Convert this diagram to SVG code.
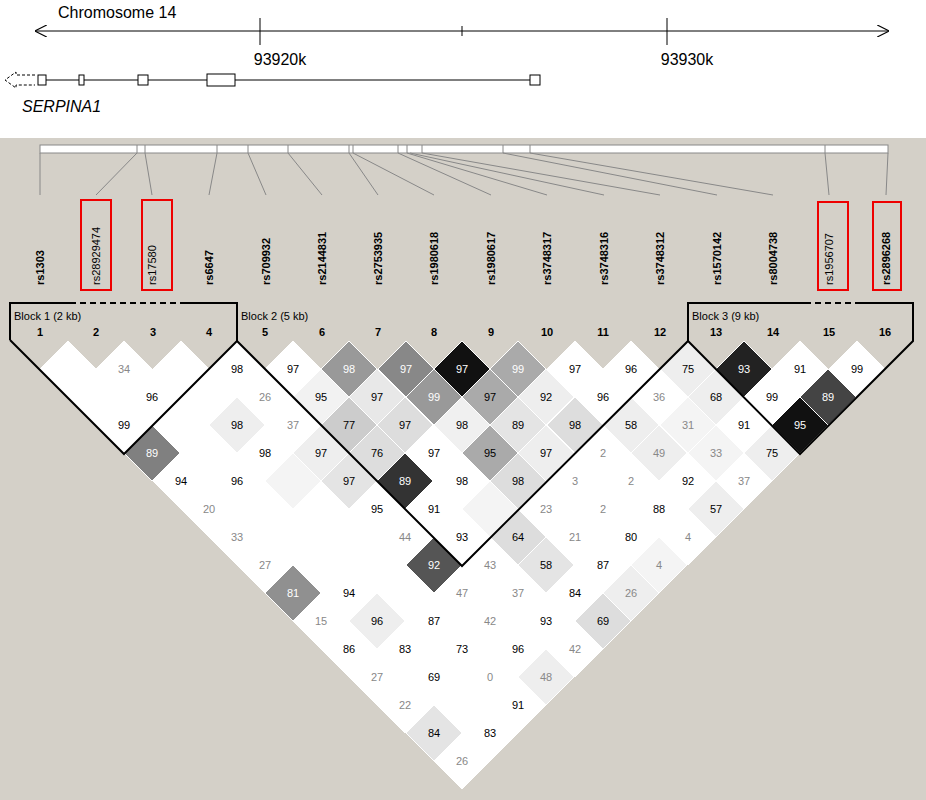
<svg xmlns="http://www.w3.org/2000/svg" width="926" height="800" viewBox="0 0 926 800">
<style>
text{font-family:"Liberation Sans",Arial,sans-serif}
.v{font-size:11px;text-anchor:middle;fill:#000}
.g{fill:#888}
.w{fill:#fff}
.n{font-size:11px;font-weight:bold;text-anchor:middle}
.s{font-size:11px;font-weight:bold}
.sn{font-size:11px}
.ln{stroke:#000;stroke-width:2;fill:none}
.th{stroke:#888;stroke-width:1;fill:none}
</style>
<defs>
<path id="d" d="M0,-28 L28,0 L0,28 L-28,0Z" stroke="#fff" stroke-width="1"/>
<marker id="ah" viewBox="0 0 10 10" refX="9" refY="5" markerWidth="12" markerHeight="12" orient="auto-start-reverse" markerUnits="userSpaceOnUse"><path d="M0,0 L10,5 L0,10" fill="none" stroke="#000"/></marker>
</defs>
<rect width="926" height="800" fill="#fff"/>
<g id="chrom">
<line x1="36" y1="31" x2="888" y2="31" stroke="#000" marker-start="url(#ah)" marker-end="url(#ah)"/>
<line x1="260" y1="18" x2="260" y2="45" stroke="#000"/>
<line x1="462" y1="26" x2="462" y2="36" stroke="#000"/>
<line x1="667" y1="18" x2="667" y2="45" stroke="#000"/>
<text x="58" y="18" font-size="16">Chromosome 14</text>
<text x="280" y="65" font-size="16" text-anchor="middle">93920k</text>
<text x="687" y="65" font-size="16" text-anchor="middle">93930k</text>
</g>
<g id="gene">
<path d="M35,75 L16,75 L16,72 L5,80 L16,88 L16,85 L35,85" fill="none" stroke="#000" stroke-dasharray="3,2"/>
<line x1="46" y1="80" x2="530" y2="80" stroke="#000"/>
<g fill="#fff" stroke="#000"><rect x="38" y="75" width="8" height="10"/><rect x="79" y="75" width="5" height="10"/><rect x="138" y="75" width="10" height="10"/><rect x="207" y="74" width="28" height="12"/><rect x="530" y="75" width="10" height="10"/></g>
<text x="22" y="112" font-size="16" font-style="italic">SERPINA1</text>
</g>
<rect x="0" y="138" width="926" height="662" fill="#d4d0c8"/>
<g id="bar">
<rect x="40" y="145" width="848" height="8" fill="#fff" stroke="#888"/>
<g class="th">
<path d="M137,145v8M145,145v8M217,145v8M248,145v8M288,145v8M349,145v8M353,145v8M398,145v8M407,145v8M422,145v8M503,145v8M530,145v8M825,145v8"/>
<path d="M40,153L40,195M137,153L96,195M145,153L152,195M217,153L209,195M248,153L266,195M288,153L322,195M349,153L378,195M353,153L434,195M398,153L491,195M407,153L547,195M410,153L604,195M422,153L660,195M503,153L717,195M530,153L773,195M825,153L829,195M888,153L886,195"/>
</g>
</g>
<g id="labels">
<text class="s" transform="translate(44,285) rotate(-90)">rs1303</text>
<text class="sn" transform="translate(100,285) rotate(-90)">rs28929474</text>
<text class="sn" transform="translate(156,285) rotate(-90)">rs17580</text>
<text class="s" transform="translate(213,285) rotate(-90)">rs6647</text>
<text class="s" transform="translate(270,285) rotate(-90)">rs709932</text>
<text class="s" transform="translate(326,285) rotate(-90)">rs2144831</text>
<text class="s" transform="translate(382,285) rotate(-90)">rs2753935</text>
<text class="s" transform="translate(438,285) rotate(-90)">rs1980618</text>
<text class="s" transform="translate(495,285) rotate(-90)">rs1980617</text>
<text class="s" transform="translate(551,285) rotate(-90)">rs3748317</text>
<text class="s" transform="translate(608,285) rotate(-90)">rs3748316</text>
<text class="s" transform="translate(664,285) rotate(-90)">rs3748312</text>
<text class="s" transform="translate(721,285) rotate(-90)">rs1570142</text>
<text class="s" transform="translate(777,285) rotate(-90)">rs8004738</text>
<text class="sn" transform="translate(833,285) rotate(-90)">rs1956707</text>
<text class="s" transform="translate(890,285) rotate(-90)">rs2896268</text>
<g fill="none" stroke="#e00" stroke-width="2">
<rect x="81" y="200" width="30" height="90"/><rect x="142" y="200" width="30" height="90"/><rect x="818" y="202" width="30" height="88"/><rect x="873" y="202" width="28" height="88"/>
</g>
</g>
<g id="cells">
<g fill="#fff">
<use href="#d" x="68" y="369"/><use href="#d" x="124" y="369"/><use href="#d" x="181" y="369"/><use href="#d" x="237" y="369"/><use href="#d" x="293" y="369"/><use href="#d" x="349" y="369" fill="#999"/><use href="#d" x="406" y="369" fill="#888"/><use href="#d" x="462" y="369" fill="#111"/><use href="#d" x="518" y="369" fill="#aaa"/><use href="#d" x="575" y="369"/><use href="#d" x="631" y="369"/><use href="#d" x="688" y="369" fill="#eee"/><use href="#d" x="744" y="369" fill="#222"/><use href="#d" x="800" y="369"/><use href="#d" x="857" y="369"/>
<use href="#d" x="96" y="397"/><use href="#d" x="152" y="397"/><use href="#d" x="209" y="397"/><use href="#d" x="265" y="397"/><use href="#d" x="321" y="397" fill="#f2f2f2"/><use href="#d" x="377" y="397" fill="#e8e8e8"/><use href="#d" x="434" y="397" fill="#999"/><use href="#d" x="490" y="397" fill="#aaa"/><use href="#d" x="546" y="397" fill="#eee"/><use href="#d" x="603" y="397"/><use href="#d" x="659" y="397"/><use href="#d" x="716" y="397" fill="#eee"/><use href="#d" x="772" y="397"/><use href="#d" x="828" y="397" fill="#444"/>
<use href="#d" x="124" y="425"/><use href="#d" x="181" y="425"/><use href="#d" x="237" y="425" fill="#eee"/><use href="#d" x="293" y="425"/><use href="#d" x="349" y="425" fill="#ccc"/><use href="#d" x="405" y="425" fill="#ddd"/><use href="#d" x="462" y="425" fill="#f0f0f0"/><use href="#d" x="518" y="425" fill="#e4e4e4"/><use href="#d" x="575" y="425" fill="#ddd"/><use href="#d" x="631" y="425" fill="#eee"/><use href="#d" x="688" y="425" fill="#f4f4f4"/><use href="#d" x="744" y="425"/><use href="#d" x="800" y="425" fill="#111"/>
<use href="#d" x="152" y="453" fill="#808080"/><use href="#d" x="209" y="453"/><use href="#d" x="265" y="453"/><use href="#d" x="321" y="453" fill="#eee"/><use href="#d" x="377" y="453" fill="#ddd"/><use href="#d" x="434" y="453"/><use href="#d" x="490" y="453" fill="#aaa"/><use href="#d" x="546" y="453" fill="#eee"/><use href="#d" x="603" y="453"/><use href="#d" x="659" y="453" fill="#eee"/><use href="#d" x="716" y="453" fill="#f4f4f4"/><use href="#d" x="772" y="453" fill="#eee"/>
<use href="#d" x="181" y="481"/><use href="#d" x="237" y="481"/><use href="#d" x="293" y="481" fill="#f4f4f4"/><use href="#d" x="349" y="481" fill="#e4e4e4"/><use href="#d" x="405" y="481" fill="#333"/><use href="#d" x="462" y="481"/><use href="#d" x="518" y="481" fill="#ddd"/><use href="#d" x="575" y="481"/><use href="#d" x="631" y="481"/><use href="#d" x="688" y="481"/><use href="#d" x="744" y="481"/>
<use href="#d" x="209" y="509"/><use href="#d" x="265" y="509"/><use href="#d" x="321" y="509"/><use href="#d" x="377" y="509"/><use href="#d" x="434" y="509"/><use href="#d" x="490" y="509" fill="#f4f4f4"/><use href="#d" x="546" y="509"/><use href="#d" x="603" y="509"/><use href="#d" x="659" y="509"/><use href="#d" x="716" y="509" fill="#eee"/>
<use href="#d" x="237" y="537"/><use href="#d" x="293" y="537"/><use href="#d" x="349" y="537"/><use href="#d" x="405" y="537"/><use href="#d" x="462" y="537"/><use href="#d" x="518" y="537" fill="#ddd"/><use href="#d" x="575" y="537"/><use href="#d" x="631" y="537"/><use href="#d" x="688" y="537"/>
<use href="#d" x="265" y="565"/><use href="#d" x="321" y="565"/><use href="#d" x="377" y="565"/><use href="#d" x="434" y="565" fill="#555"/><use href="#d" x="490" y="565"/><use href="#d" x="546" y="565" fill="#e4e4e4"/><use href="#d" x="603" y="565"/><use href="#d" x="659" y="565" fill="#f4f4f4"/>
<use href="#d" x="293" y="593" fill="#909090"/><use href="#d" x="349" y="593"/><use href="#d" x="405" y="593"/><use href="#d" x="462" y="593"/><use href="#d" x="518" y="593"/><use href="#d" x="575" y="593"/><use href="#d" x="631" y="593" fill="#eee"/>
<use href="#d" x="321" y="621"/><use href="#d" x="377" y="621" fill="#eee"/><use href="#d" x="434" y="621"/><use href="#d" x="490" y="621"/><use href="#d" x="546" y="621"/><use href="#d" x="603" y="621" fill="#ddd"/>
<use href="#d" x="349" y="649"/><use href="#d" x="405" y="649"/><use href="#d" x="462" y="649"/><use href="#d" x="518" y="649"/><use href="#d" x="575" y="649"/>
<use href="#d" x="377" y="677"/><use href="#d" x="434" y="677"/><use href="#d" x="490" y="677"/><use href="#d" x="546" y="677" fill="#eee"/>
<use href="#d" x="405" y="705"/><use href="#d" x="462" y="705"/><use href="#d" x="518" y="705"/>
<use href="#d" x="434" y="733" fill="#e4e4e4"/><use href="#d" x="490" y="733"/>
<use href="#d" x="462" y="761"/>
</g>
<g class="v">
<text x="124" y="373" class="v g">34</text><text x="237" y="373">98</text><text x="293" y="373">97</text><text x="349" y="373" class="v w">98</text><text x="406" y="373" class="v w">97</text><text x="462" y="373" class="v w">97</text><text x="518" y="373" class="v w">99</text><text x="575" y="373">97</text><text x="631" y="373">96</text><text x="688" y="373">75</text><text x="744" y="373" class="v w">93</text><text x="800" y="373">91</text><text x="857" y="373">99</text>
<text x="152" y="401">96</text><text x="265" y="401" class="v g">26</text><text x="321" y="401">95</text><text x="377" y="401">97</text><text x="434" y="401" class="v w">99</text><text x="490" y="401">97</text><text x="546" y="401">92</text><text x="603" y="401">96</text><text x="659" y="401" class="v g">36</text><text x="716" y="401">68</text><text x="772" y="401">99</text><text x="828" y="401" class="v w">89</text>
<text x="124" y="429">99</text><text x="237" y="429">98</text><text x="293" y="429" class="v g">37</text><text x="349" y="429">77</text><text x="405" y="429">97</text><text x="462" y="429">98</text><text x="518" y="429">89</text><text x="575" y="429">98</text><text x="631" y="429">58</text><text x="688" y="429" class="v g">31</text><text x="744" y="429">91</text><text x="800" y="429" class="v w">95</text>
<text x="152" y="457" class="v w">89</text><text x="265" y="457">98</text><text x="321" y="457">97</text><text x="377" y="457">76</text><text x="434" y="457">97</text><text x="490" y="457">95</text><text x="546" y="457">97</text><text x="603" y="457" class="v g">2</text><text x="659" y="457" class="v g">49</text><text x="716" y="457" class="v g">33</text><text x="772" y="457">75</text>
<text x="181" y="485">94</text><text x="237" y="485">96</text><text x="349" y="485">97</text><text x="405" y="485" class="v w">89</text><text x="462" y="485">98</text><text x="518" y="485">98</text><text x="575" y="485" class="v g">3</text><text x="631" y="485" class="v g">2</text><text x="688" y="485">92</text><text x="744" y="485" class="v g">37</text>
<text x="209" y="513" class="v g">20</text><text x="377" y="513">95</text><text x="434" y="513">91</text><text x="546" y="513" class="v g">23</text><text x="603" y="513" class="v g">2</text><text x="659" y="513">88</text><text x="716" y="513">57</text>
<text x="237" y="541" class="v g">33</text><text x="405" y="541" class="v g">44</text><text x="462" y="541">93</text><text x="518" y="541">64</text><text x="575" y="541" class="v g">21</text><text x="631" y="541">80</text><text x="688" y="541" class="v g">4</text>
<text x="265" y="569" class="v g">27</text><text x="434" y="569" class="v w">92</text><text x="490" y="569" class="v g">43</text><text x="546" y="569">58</text><text x="603" y="569">87</text><text x="659" y="569" class="v g">4</text>
<text x="293" y="597" class="v w">81</text><text x="349" y="597">94</text><text x="462" y="597" class="v g">47</text><text x="518" y="597" class="v g">37</text><text x="575" y="597">84</text><text x="631" y="597" class="v g">26</text>
<text x="321" y="625" class="v g">15</text><text x="377" y="625">96</text><text x="434" y="625">87</text><text x="490" y="625" class="v g">42</text><text x="546" y="625">93</text><text x="603" y="625">69</text>
<text x="349" y="653">86</text><text x="405" y="653">83</text><text x="462" y="653">73</text><text x="518" y="653">96</text><text x="575" y="653" class="v g">42</text>
<text x="377" y="681" class="v g">27</text><text x="434" y="681">69</text><text x="490" y="681" class="v g">0</text><text x="546" y="681" class="v g">48</text>
<text x="405" y="709" class="v g">22</text><text x="518" y="709">91</text>
<text x="434" y="737">84</text><text x="490" y="737">83</text>
<text x="462" y="765" class="v g">26</text>
</g>
</g>
<g id="blocks">
<path class="ln" d="M10,340 V303 H70 M180,303 H237 V341 L462,566 L688,341 V303 H805 M860,303 H913 V341 L800,454 L688,341 M10,340 L124,454 L237,341"/>
<path class="ln" d="M70,303 H180 M805,303 H860" stroke-dasharray="6,4"/>
<text x="14" y="320" font-size="11">Block 1 (2 kb)</text>
<text x="241" y="320" font-size="11">Block 2 (5 kb)</text>
<text x="692" y="320" font-size="11">Block 3 (9 kb)</text>
<g class="n">
<text x="40" y="336">1</text><text x="96" y="336">2</text><text x="153" y="336">3</text><text x="209" y="336">4</text><text x="265" y="336">5</text><text x="322" y="336">6</text><text x="378" y="336">7</text><text x="434" y="336">8</text><text x="491" y="336">9</text><text x="547" y="336">10</text><text x="603" y="336">11</text><text x="660" y="336">12</text><text x="716" y="336">13</text><text x="773" y="336">14</text><text x="829" y="336">15</text><text x="885" y="336">16</text>
</g>
</g>
</svg>
